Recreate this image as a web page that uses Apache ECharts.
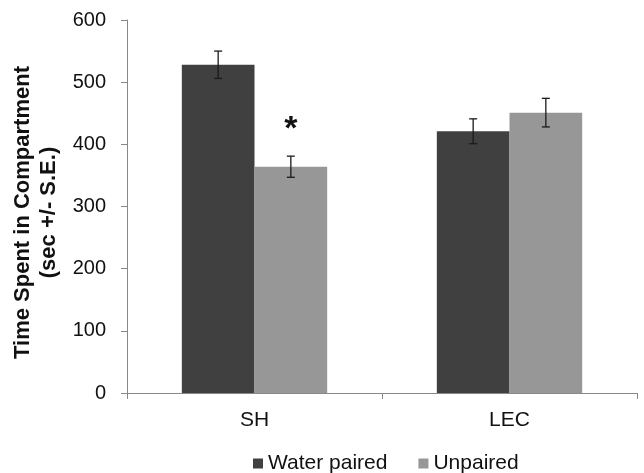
<!DOCTYPE html>
<html>
<head>
<meta charset="utf-8">
<script src="https://cdn.jsdelivr.net/npm/echarts@6/dist/echarts.min.js"></script>
<style>
  html, body { margin: 0; padding: 0; background: #fff; }
  #chart { width: 644px; height: 473px; }
</style>
</head>
<body>
<div id="chart"></div>
<script>
const categories = ['SH', 'LEC']
const waterPaired = [528, 421]
const unpaired = [364, 451]
const waterPairedErr = [22, 20]
const unpairedErr = [17, 23]
const yTicks = [0, 100, 200, 300, 400, 500, 600]

const font = 'Liberation Sans, Arial, sans-serif'
const barShare = 0.57 // both bars together, share of a category band

const chart = echarts.init(document.getElementById('chart'))

// error bar drawn around the center of one bar in the group
function errorBars(values, errs, side) {
  return {
    type: 'custom',
    z: 5,
    silent: true,
    data: values.map((v, i) => [i, v, errs[i]]),
    renderItem: (params, api) => {
      const band = api.size([1, 0])[0]
      const offset = side * band * barShare / 4
      const top = api.coord([api.value(0), api.value(1) + api.value(2)])
      const bottom = api.coord([api.value(0), api.value(1) - api.value(2)])
      const x = top[0] + offset
      const cap = 4
      const style = { stroke: '#1a1a1a', lineWidth: 1.3 }
      return {
        type: 'group',
        children: [
          { type: 'line', shape: { x1: x, y1: top[1], x2: x, y2: bottom[1] }, style },
          { type: 'line', shape: { x1: x - cap, y1: top[1], x2: x + cap, y2: top[1] }, style },
          { type: 'line', shape: { x1: x - cap, y1: bottom[1], x2: x + cap, y2: bottom[1] }, style }
        ]
      }
    }
  }
}

const option = {
  animation: false,
  textStyle: { fontFamily: font },
  grid: { left: 127, right: 7, top: 20, bottom: 80 },
  legend: {
    top: 453,
    left: 253,
    padding: 0,
    itemWidth: 10,
    itemHeight: 10,
    itemGap: 31,
    icon: 'rect',
    textStyle: { fontSize: 21, color: '#111', fontFamily: font },
    data: ['Water paired', 'Unpaired']
  },
  xAxis: {
    type: 'category',
    data: categories,
    axisLine: { lineStyle: { color: '#888' } },
    axisTick: { show: true, length: 6, lineStyle: { color: '#888' } },
    axisLabel: { fontSize: 21, color: '#111', margin: 17, fontFamily: font }
  },
  yAxis: {
    type: 'value',
    min: yTicks[0],
    max: yTicks[yTicks.length - 1],
    interval: 100,
    name: 'Time Spent in Compartment\n(sec +/- S.E.)',
    nameLocation: 'middle',
    nameGap: 57,
    nameTextStyle: { fontSize: 22, fontWeight: 'bold', color: '#111', lineHeight: 26, padding: [0, 12, 0, 0], fontFamily: font },
    axisLine: { show: true, lineStyle: { color: '#888' } },
    axisTick: { show: true, length: 6, lineStyle: { color: '#888' } },
    splitLine: { show: false },
    axisLabel: { fontSize: 20, color: '#111', margin: 21, fontFamily: font }
  },
  series: [
    {
      name: 'Water paired',
      type: 'bar',
      data: waterPaired,
      barGap: '0%',
      barCategoryGap: '43%',
      itemStyle: { color: '#404040' }
    },
    {
      name: 'Unpaired',
      type: 'bar',
      data: unpaired.map((v, i) => i === 0
        ? { value: v, label: { show: true, position: 'top', distance: 20, formatter: '*', fontSize: 34, fontWeight: 'bold', color: '#111' } }
        : v),
      barGap: '0%',
      barCategoryGap: '43%',
      itemStyle: { color: '#979797' }
    },
    errorBars(waterPaired, waterPairedErr, -1),
    errorBars(unpaired, unpairedErr, 1)
  ]
}

chart.setOption(option)
</script>
</body>
</html>
